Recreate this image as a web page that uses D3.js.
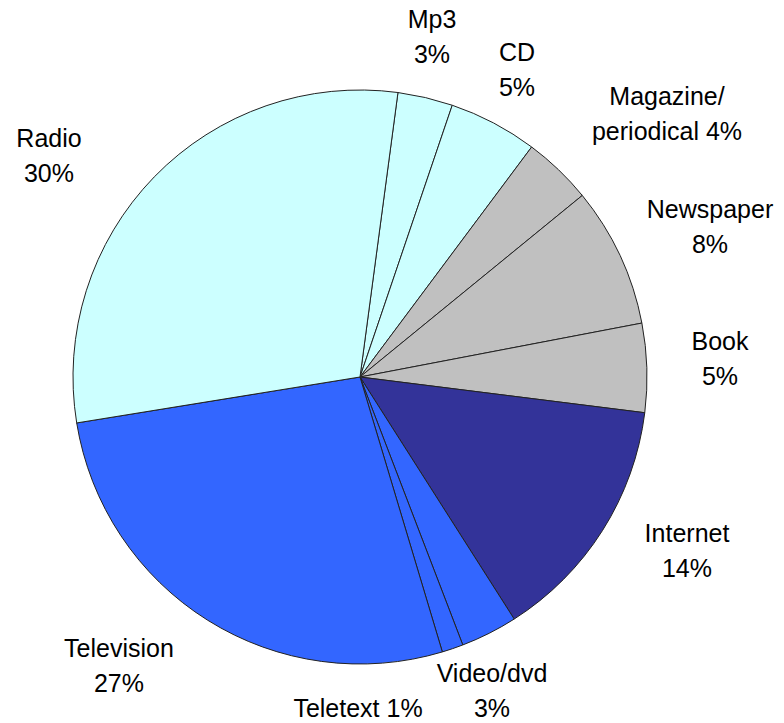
<!DOCTYPE html>
<html lang="en">
<head>
  <meta charset="UTF-8">
  <title>Media pie</title>
  <style>
    html, body {
      margin: 0;
      padding: 0;
      background: #fff;
    }
    .slice {
      stroke: #222;
      stroke-width: 1;
    }
    .label {
      font-family: "Liberation Sans", Arial, sans-serif;
      font-size: 25px;
      fill: #000;
      text-anchor: middle;
    }
  </style>
  <script src="https://cdn.jsdelivr.net/npm/d3@7/dist/d3.min.js"></script>
</head>
<body>
<script>
  // data, clockwise starting just right of 12 o'clock
  const categories = ['Mp3', 'CD', 'Magazine/\nperiodical', 'Newspaper', 'Book', 'Internet', 'Video/dvd', 'Teletext', 'Television', 'Radio'];
  const values = [3.1, 5.0, 3.9, 7.9, 5.0, 14.0, 3.2, 1.2, 27.1, 29.7];
  const colors = ['#ccffff', '#ccffff', '#c0c0c0', '#c0c0c0', '#c0c0c0', '#333399', '#3366ff', '#3366ff', '#3366ff', '#ccffff'];

  // where Excel put each data label (centre x, first baseline y); 'inline' = name and % on one line
  const labelLayout = {
    'Mp3': { x: 432, y: 28 },
    'CD': { x: 517, y: 61 },
    'Magazine/\nperiodical': { x: 667, y: 105, inline: true },
    'Newspaper': { x: 710, y: 218 },
    'Book': { x: 720, y: 350 },
    'Internet': { x: 687, y: 542 },
    'Video/dvd': { x: 492, y: 682 },
    'Teletext': { x: 358, y: 717, inline: true },
    'Television': { x: 119, y: 657 },
    'Radio': { x: 49, y: 147 }
  };

  const width = 784;
  const height = 723;
  const cx = 360;
  const cy = 377;
  const radius = 287;
  const startDeg = 7.6;
  const lineH = 34.5;

  const total = d3.sum(values);
  const rows = categories.map((name, i) => ({ name: name, value: values[i], color: colors[i] }));

  const svg = d3.select('body').append('svg')
    .attr('width', width)
    .attr('height', height);

  const start = startDeg * Math.PI / 180;
  const pie = d3.pie()
    .sort(null)
    .value((d) => d.value)
    .startAngle(start)
    .endAngle(start + 2 * Math.PI);

  const arc = d3.arc()
    .innerRadius(0)
    .outerRadius(radius);

  const g = svg.append('g')
    .attr('transform', `translate(${cx},${cy})`);

  g.selectAll('.slice')
    .data(pie(rows))
    .enter()
    .append('path')
    .attr('class', 'slice')
    .attr('fill', (d) => d.data.color)
    .attr('d', arc);

  // ***************标签***************
  const pct = (v) => Math.round(v / total * 100) + '%';

  const labels = svg.selectAll('.label')
    .data(rows)
    .enter()
    .append('text')
    .attr('class', 'label')
    .attr('x', (d) => labelLayout[d.name].x)
    .attr('y', (d) => labelLayout[d.name].y);

  labels.each(function (d) {
    const pos = labelLayout[d.name];
    const parts = d.name.split('\n');
    let lines;
    if (pos.inline) {
      lines = parts.slice();
      lines[lines.length - 1] += ' ' + pct(d.value);
    } else {
      lines = parts.concat([pct(d.value)]);
    }
    d3.select(this).selectAll('tspan')
      .data(lines)
      .enter()
      .append('tspan')
      .attr('x', pos.x)
      .attr('dy', (t, i) => i === 0 ? 0 : lineH)
      .text((t) => t);
  });
</script>
</body>
</html>
